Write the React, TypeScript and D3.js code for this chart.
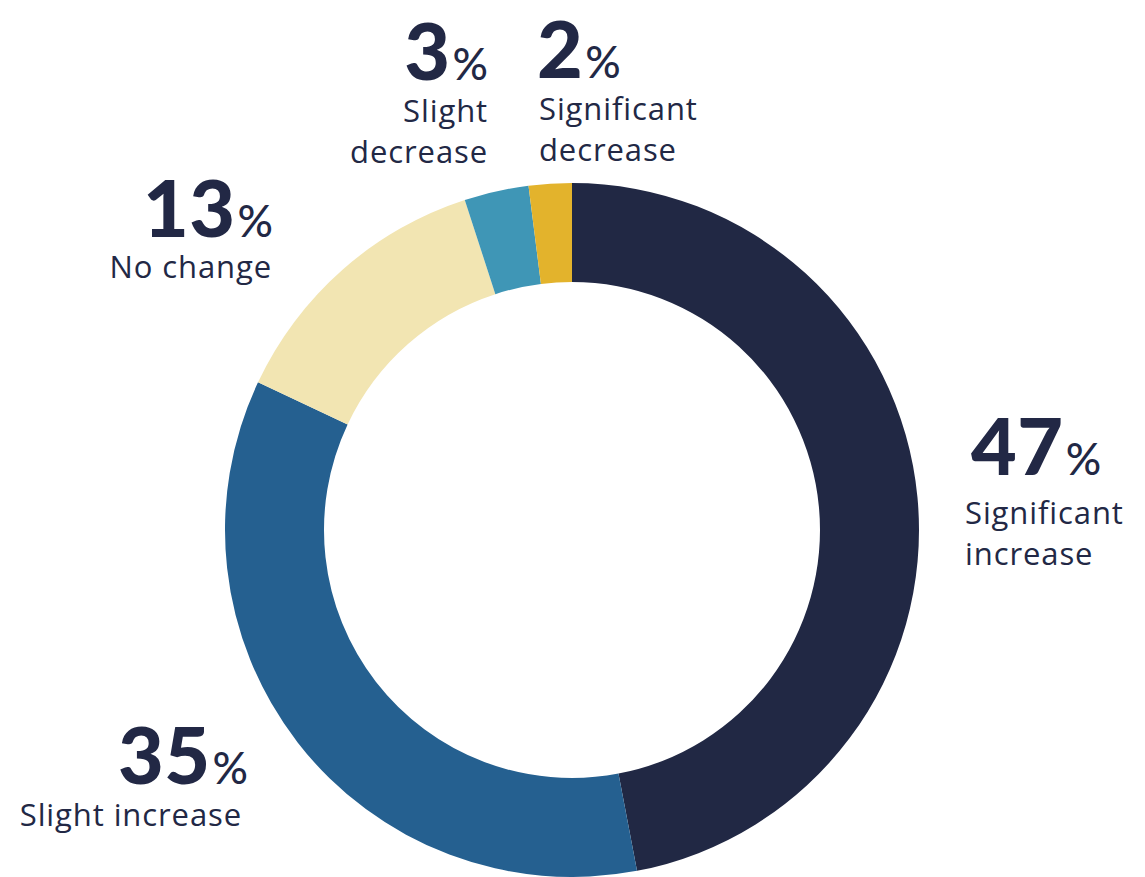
import React from "react";
import * as d3 from "d3";

const categories = ["Significant increase", "Slight increase", "No change", "Slight decrease", "Significant decrease"];
const values = [47, 35, 13, 3, 2];
const colors = ["#212844", "#256090", "#f2e5b2", "#3f96b6", "#e3b32c"];
const labelLines = [["Significant", "increase"], ["Slight increase"], ["No change"], ["Slight", "decrease"], ["Significant", "decrease"]];

// layout for each label: anchor, number x, number baseline, text x, first text baseline
const labelLayout = [
  { anchor: "start", nx: 971, ny: 475, tx: 965, ty: 524 },
  { anchor: "end", nx: 248, ny: 784, tx: 242, ty: 826 },
  { anchor: "end", nx: 273, ny: 237, tx: 272, ty: 278 },
  { anchor: "end", nx: 488, ny: 80, tx: 488, ty: 122 },
  { anchor: "start", nx: 537, ny: 78, tx: 539, ty: 120 },
];

const W = 1145;
const H = 877;
const cx = 572;
const cy = 530;
const outerR = 347;
const innerR = 248;
const textColor = "#222845";
const numFont = "Lato, 'Open Sans', sans-serif";
const labFont = "'Open Sans', Lato, sans-serif";

export default function App() {
  const pie = d3.pie<number>().sort(null).value((d) => d);
  const arcs = pie(values);
  const arc = d3.arc<d3.PieArcDatum<number>>().innerRadius(innerR).outerRadius(outerR);

  return (
    <svg width={W} height={H} style={{ position: "absolute", left: 0, top: 0 }}>
      <rect width={W} height={H} fill="#ffffff" />
      <g transform={`translate(${cx},${cy})`}>
        {arcs.map((a, i) => (
          <path key={categories[i]} d={arc(a) || ""} fill={colors[i]} />
        ))}
      </g>
      {values.map((v, i) => {
        const L = labelLayout[i];
        return (
          <g key={"lab" + i} fill={textColor}>
            <text x={L.nx} y={L.ny} textAnchor={L.anchor as any} fontFamily={numFont}>
              <tspan fontSize={79} fontWeight={900} letterSpacing={0.5}>{v}</tspan>
              <tspan fontSize={44} fontWeight={500} dx={2}>%</tspan>
            </text>
            {labelLines[i].map((line, j) => (
              <text key={j} x={L.tx} y={L.ty + j * 41} textAnchor={L.anchor as any} fontSize={31} fontFamily={labFont} letterSpacing={0.9}>
                {line}
              </text>
            ))}
          </g>
        );
      })}
    </svg>
  );
}
